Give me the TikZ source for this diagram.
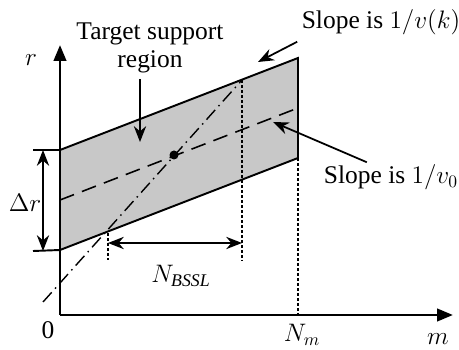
\documentclass[tikz,border=0pt]{standalone}
\usepackage{fontspec}
\setmainfont{Liberation Serif}
\usetikzlibrary{arrows.meta,positioning,calc}
\definecolor{regiongray}{RGB}{200,200,200}

\begin{document}
\begin{tikzpicture}[x=0.02cm, y=-0.02cm,
    every node/.style={font=\fontsize{14.5}{16}\selectfont},
    axisline/.style={line width=1.6pt, -{Triangle[length=9pt,width=7pt]}},
    edgeline/.style={line width=1.1pt},
    midline/.style={line width=0.9pt, dash pattern=on 0.3cm off 0.17cm},
    dashdotline/.style={line width=0.8pt, dash pattern=on 0.26cm off 0.1cm on 0.03cm off 0.1cm},
    dotline/.style={line width=1pt, dash pattern=on 0.06cm off 0.04cm},
    pointer/.style={line width=1pt, -{Stealth[length=9pt,width=7pt]}}]

    \useasboundingbox (0,0) rectangle (459,350);

    % ---- Corners of the region ----
    \coordinate (bl) at (60,250);
    \coordinate (br) at (298,158);
    \coordinate (tr) at (298,58);
    \coordinate (tl) at (60,150);
    \coordinate (origin) at (60,315);

    % ---- Region ----
    \fill[regiongray] (bl) -- (br) -- (tr) -- (tl) -- cycle;
    \draw[edgeline] (bl) -- (br) -- (tr) -- (tl);

    % ---- Slope lines ----
    \coordinate (midl) at (60,200);
    \coordinate (midr) at (298,108);
    \draw[midline] (midl) -- (midr);
    \coordinate (kstart) at (43,302);
    \coordinate (kend) at (242,80);
    \draw[dashdotline] (kstart) -- (kend);
    \fill (174,155) circle (4.5);

    % ---- Dotted guides ----
    \draw[dotline] (108,233) -- (108,260);
    \draw[dotline] (kend) -- (242,260);
    \draw[dotline] (br) -- (br |- origin);

    % ---- Axes ----
    \draw[axisline] (origin) -- (60,45);
    \draw[axisline] (origin) -- (453,315);

    % ---- Delta r ----
    \draw[edgeline] (33,150) -- (tl);
    \draw[edgeline] (33,251) -- (bl);
    \draw[line width=1pt, {Stealth[length=9pt,width=7pt]}-{Stealth[length=9pt,width=7pt]}] (43,150) -- (43,251);

    % ---- N_BSSL ----
    \draw[line width=1pt, {Stealth[length=9pt,width=7pt]}-{Stealth[length=9pt,width=7pt]}] (108,243) -- (242,243);

    % ---- Labels ----
    \node (rlabel) at (31,60) {$r$};
    \node (mlabel) at (438,339) {$m$};
    \node (zero) at (48,330) {0};
    \node (nm) at (302,335) {$N_m$};
    \node (nbssl) at (181,276) {$N_{\mathit{BSSL}}$};
    \node (deltar) at (25,203) {$\Delta r$};
    \node[align=center, inner sep=1pt] (target) at (150,48) {Target support\\region};
    \node[inner sep=1pt] (slopek) at (381,22) {Slope is $1/v(k)$};
    \node[inner sep=1pt] (slope0) at (391,177) {Slope is $1/v_0$};

    % ---- Pointers ----
    \coordinate (targettip) at (140,142);
    \coordinate (ktip) at (258,62);
    \coordinate (vtip) at (273,122);
    \draw[pointer] (target.south -| targettip) ++(0,4) -- (targettip);
    \draw[pointer] ([xshift=-0.05cm,yshift=-0.1cm]slopek.south west) -- (ktip);
    \draw[pointer] ([xshift=0.9cm]slope0.north west) -- (vtip);

\end{tikzpicture}
\end{document}
